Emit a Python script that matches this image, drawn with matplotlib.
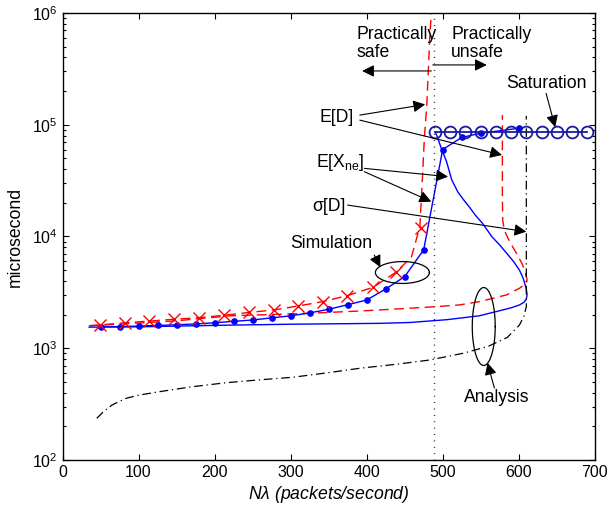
import numpy as np
import matplotlib
matplotlib.use("Agg")
import matplotlib.pyplot as plt

plt.rcParams['font.family'] = ['Liberation Sans', 'DejaVu Sans']
plt.rcParams['mathtext.fontset'] = 'custom'
plt.rcParams['mathtext.rm'] = 'Liberation Sans'
plt.rcParams['mathtext.it'] = 'Liberation Sans:italic'

# analysis E[D] (red dashed), branch following the simulation
ed_a_x = [35, 49, 82, 114, 146, 179, 212, 245, 278, 310, 342, 374, 408, 439, 459, 470, 473, 476, 479, 483, 485]
ed_a_y = [1590, 1615, 1690, 1750, 1815, 1876, 1970, 2090, 2200, 2390, 2610, 2950, 3500, 4810, 6590, 12250,
          30000, 78000, 145000, 600000, 1000000]
# analysis E[D], lower branch
ed_b_x = [35, 100, 150, 220, 325, 395, 457, 491, 522, 548, 584, 601, 606, 610, 611, 609, 605, 599, 592,
          586, 581, 579, 578.5, 578.5]
ed_b_y = [1590, 1680, 1760, 1950, 2055, 2160, 2280, 2355, 2440, 2610, 3000, 3440, 3650, 3810, 4100, 4700,
          5600, 6700, 8100, 9600, 11430, 14000, 21200, 122000]
# analysis E[X_ne] (blue solid)
exne_x = [35, 100, 220, 300, 417, 457, 505, 548, 570, 590, 601, 607, 610, 611, 610, 606, 601, 593, 584,
          575, 565, 552, 543, 535, 527, 520, 512, 505, 498, 492, 490]
exne_y = [1545, 1555, 1610, 1640, 1670, 1700, 1800, 1950, 2124, 2300, 2440, 2580, 2750, 3000, 3400, 4200,
          5000, 6000, 7100, 8400, 9900, 13200, 15500, 18400, 21500, 25000, 32000, 47000, 62000, 81000, 86000]
# analysis sigma[D] (black dash-dot)
sd_x = [45, 55, 65, 75, 84, 100, 128, 170, 216, 260, 303, 350, 391, 440, 483, 527, 560, 585, 601, 607,
        610, 610]
sd_y = [236, 275, 310, 335, 357, 380, 409, 452, 492, 522, 550, 605, 662, 720, 785, 902, 1040, 1250, 1614,
        1950, 2355, 120000]
# simulation E[X_ne] (blue dots)
sim_x = [50, 75, 100, 125, 150, 175, 200, 225, 250, 275, 300, 325, 350, 375, 400, 425, 450, 475, 500, 525,
         550, 600]
sim_y = [1560, 1560, 1580, 1600, 1620, 1650, 1690, 1740, 1790, 1870, 1950, 2070, 2230, 2450, 2700, 3390,
         4370, 7600, 60000, 77000, 84000, 93000]
# simulation E[D] (red x)
simd_x = [49, 82, 114, 146, 179, 212, 245, 278, 310, 342, 374, 408, 439, 472]
simd_y = [1615, 1690, 1750, 1815, 1876, 1970, 2090, 2200, 2390, 2610, 2950, 3500, 4810, 11840]
# saturation
sat_x = [490, 510, 530, 550, 570, 590, 610, 630, 650, 670, 690]
sat_y = [86000] * len(sat_x)
safe_limit = 488

fig = plt.figure(figsize=(6.1, 5.12), dpi=100)
ax = fig.add_axes([0.1025, 0.1016, 0.8725, 0.873])
ax.set_yscale('log')

ax.plot(ed_a_x, ed_a_y, color='r', lw=1.0, dashes=(7, 4))
ax.plot(ed_b_x, ed_b_y, color='r', lw=1.0, dashes=(7, 4))
ax.plot(exne_x, exne_y, color='b', lw=1.0)
ax.plot(sd_x, sd_y, color='k', lw=0.9, dashes=(7, 3, 1, 3))
ax.plot(sim_x, sim_y, color='b', lw=1.0, marker='o', ms=3.8)
ax.plot(simd_x, simd_y, ls='none', color='r', marker='x', ms=8.5, mew=1.0)
ax.plot(sat_x, sat_y, color='#1a1a9e', lw=1.3, marker='o', ms=8.5, mfc='none', mew=1.3)
ax.axvline(safe_limit, color='k', lw=1.0, dashes=(0.6, 4))

ax.set_xlim(0, 700)
ax.set_ylim(1e2, 1e6)
ax.set_xticks(range(0, 701, 100))
ax.tick_params(which='both', direction='in', top=True, right=True, labelsize=11.5, width=0.8)
ax.tick_params(which='major', length=4.5)
ax.tick_params(which='minor', length=2.5)
for s in ax.spines.values():
    s.set_linewidth(1.0)
ax.set_xlabel(r'N$\lambda$ (packets/second)', fontsize=12.7, style='italic', labelpad=3)
ax.set_ylabel('microsecond', fontsize=12.7, labelpad=6)

fs = 12.7
arrow = dict(arrowstyle='-|>', color='k', lw=0.8, mutation_scale=18, shrinkA=0, shrinkB=0)


def arr(x0, y0, x1, y1):
    ax.annotate('', xy=(x1, y1), xytext=(x0, y0), arrowprops=arrow)


ax.text(387, 760000, 'Practically\nsafe', fontsize=fs, va='top', linespacing=1.05)
ax.text(511, 760000, 'Practically\nunsafe', fontsize=fs, va='top', linespacing=1.05)
arr(485, 303000, 394, 303000)
arr(487, 343000, 558, 343000)

ax.text(584, 235000, 'Saturation', fontsize=fs, va='center')
arr(636, 191000, 648, 95000)

ax.text(338, 115000, 'E[D]', fontsize=fs, va='center')
arr(391, 122000, 477, 152000)
arr(391, 110000, 578, 53600)

ax.text(334, 45500, r'E[X$_{\rm ne}$]', fontsize=fs, va='center')
arr(397, 40700, 507, 34300)
arr(397, 38000, 485, 20500)

ax.text(329, 18400, 'σ[D]', fontsize=fs, va='center')
arr(375, 19100, 610, 11040)

ax.text(299, 8650, 'Simulation', fontsize=fs, va='center')
arr(410, 6830, 418, 5300)

ax.text(571, 366, 'Analysis', fontsize=fs, va='center', ha='center')
arr(568, 440, 559, 740)

t = np.linspace(0, 2 * np.pi, 200)
ax.plot(447 + 35.5 * np.cos(t), 4760 * 10 ** (0.098 * np.sin(t)), color='k', lw=0.9)
ax.plot(554 + 15.1 * np.cos(t), 1565 * 10 ** (0.349 * np.sin(t)), color='k', lw=0.9)

fig.savefig('out.png', dpi=100)
